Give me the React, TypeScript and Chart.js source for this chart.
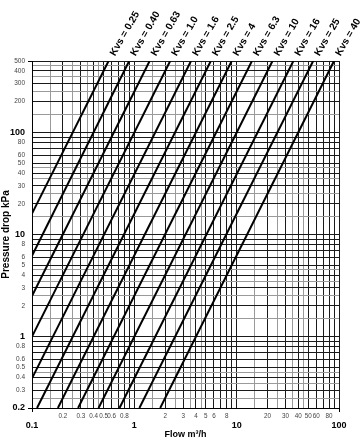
import React, { useEffect, useRef } from 'react';
import { Chart, registerables } from 'chart.js';

Chart.register(...registerables);

// Kvs curves: read endpoints (flow m³/h, pressure drop kPa)
const kvsLabels = ['Kvs = 0.25', 'Kvs = 0.40', 'Kvs = 0.63', 'Kvs = 1.0', 'Kvs = 1.6', 'Kvs = 2.5', 'Kvs = 4', 'Kvs = 6.3', 'Kvs = 10', 'Kvs = 16', 'Kvs = 25', 'Kvs = 40'];
const startFlow = [0.1, 0.1, 0.1, 0.1, 0.1, 0.112, 0.179, 0.282, 0.447, 0.716, 1.12, 1.79];
const startDrop = [16, 6.2, 2.5, 1.0, 0.39, 0.2, 0.2, 0.2, 0.2, 0.2, 0.2, 0.2];
const endFlow = [0.56, 0.89, 1.41, 2.24, 3.58, 5.59, 8.94, 14.1, 22.4, 35.8, 55.9, 89.4];
const endDrop = [500, 500, 500, 500, 500, 500, 500, 500, 500, 500, 500, 500];

// Grid lines
const xGridValues = [
  0.1, 0.15, 0.2, 0.25, 0.3, 0.35, 0.4, 0.45, 0.5, 0.6, 0.7, 0.8, 0.9,
  1, 1.5, 2, 2.5, 3, 3.5, 4, 4.5, 5, 6, 7, 8, 9,
  10, 15, 20, 25, 30, 35, 40, 45, 50, 60, 70, 80, 90, 100,
];
const yGridValues = [
  0.2, 0.25, 0.3, 0.35, 0.4, 0.45, 0.5, 0.6, 0.7, 0.8, 0.9,
  1, 1.5, 2, 2.5, 3, 3.5, 4, 4.5, 5, 6, 7, 8, 9,
  10, 15, 20, 25, 30, 35, 40, 45, 50, 60, 70, 80, 90,
  100, 150, 200, 250, 300, 350, 400, 450, 500,
];
const halfValues = [0.15, 0.25, 0.35, 0.45, 1.5, 2.5, 3.5, 4.5, 15, 25, 35, 45, 150, 250, 350, 450];

// Tick labels
const xMajorTicks = [0.1, 1, 10, 100];
const xMinorTicks = [0.2, 0.3, 0.4, 0.5, 0.6, 0.8, 2, 3, 4, 5, 6, 8, 20, 30, 40, 50, 60, 80];
const yMajorTicks = [0.2, 1, 10, 100];
const yMinorTicks = [0.3, 0.4, 0.5, 0.6, 0.8, 2, 3, 4, 5, 6, 8, 20, 30, 40, 50, 60, 80, 200, 300, 400, 500];

const FONT = "'Liberation Sans', Arial, Helvetica, sans-serif";

const kvsLabelPlugin = {
  id: 'kvsLabels',
  afterDraw(chart: any) {
    const ctx = chart.ctx;
    ctx.save();
    ctx.font = `bold 10px ${FONT}`;
    ctx.fillStyle = '#000';
    ctx.textAlign = 'left';
    ctx.textBaseline = 'middle';
    chart.data.datasets.forEach((ds: any, i: number) => {
      const meta = chart.getDatasetMeta(i);
      const pt = meta.data[meta.data.length - 1];
      if (!pt) return;
      ctx.save();
      ctx.translate(pt.x + 4, pt.y - 6);
      ctx.rotate(-Math.PI / 3);
      ctx.fillText(ds.label, 0, 0);
      ctx.restore();
    });
    ctx.restore();
  },
};

export default function App() {
  const canvasRef = useRef<HTMLCanvasElement | null>(null);

  useEffect(() => {
    document.body.style.margin = '0';
    const canvas = canvasRef.current;
    if (!canvas) return;

    const datasets = kvsLabels.map((label, i) => ({
      label,
      data: [
        { x: startFlow[i], y: startDrop[i] },
        { x: endFlow[i], y: endDrop[i] },
      ],
      borderColor: '#000',
      borderWidth: 2,
      pointRadius: 0,
      fill: false,
      tension: 0,
    }));

    const gridColor = (ctx: any) => (halfValues.includes(ctx.tick?.value) ? '#9a9a9a' : '#1a1a1a');
    const edgeX = (ctx: any) => (ctx.tick?.value === 0.1 || ctx.tick?.value === 100 ? '#000' : 'rgba(0,0,0,0)');
    const edgeY = (ctx: any) => (ctx.tick?.value === 0.2 || ctx.tick?.value === 500 ? '#000' : 'rgba(0,0,0,0)');

    const chart = new Chart(canvas, {
      type: 'line',
      data: { datasets },
      plugins: [kvsLabelPlugin],
      options: {
        animation: false,
        responsive: false,
        maintainAspectRatio: false,
        layout: { padding: { top: 61, right: 24, left: 0, bottom: 0 } },
        plugins: { legend: { display: false }, tooltip: { enabled: false } },
        scales: {
          x: {
            type: 'logarithmic',
            min: 0.1,
            max: 100,
            afterBuildTicks: (scale: any) => {
              scale.ticks = xGridValues.map((v) => ({ value: v, major: xMajorTicks.includes(v) }));
            },
            afterFit: (scale: any) => {
              scale.height = 32;
            },
            grid: { color: gridColor, lineWidth: 1, tickLength: 4, tickColor: edgeX },
            border: { display: true, color: '#000', width: 1 },
            ticks: {
              autoSkip: false,
              maxRotation: 0,
              minRotation: 0,
              padding: 0,
              callback: (value: any) => {
                const v = Number(value);
                if (xMajorTicks.includes(v)) return ['', String(v)];
                if (xMinorTicks.includes(v)) return String(v);
                return '';
              },
              font: (ctx: any) =>
                xMajorTicks.includes(ctx.tick?.value)
                  ? { family: FONT, size: 9, weight: 'bold', lineHeight: 1.0 }
                  : { family: FONT, size: 6.3, weight: 'normal', lineHeight: 1.3 },
              color: (ctx: any) => (xMajorTicks.includes(ctx.tick?.value) ? '#000' : '#444'),
            },
            title: {
              display: true,
              text: 'Flow m³/h',
              font: { family: FONT, size: 9, weight: 'bold' },
              color: '#000',
              padding: { top: 0, bottom: 0 },
            },
          },
          y: {
            type: 'logarithmic',
            min: 0.2,
            max: 500,
            afterBuildTicks: (scale: any) => {
              scale.ticks = yGridValues.map((v) => ({ value: v, major: yMajorTicks.includes(v) }));
            },
            afterFit: (scale: any) => {
              scale.width = 32;
            },
            grid: { color: gridColor, lineWidth: 1, tickLength: 4, tickColor: edgeY },
            border: { display: true, color: '#000', width: 1 },
            ticks: {
              autoSkip: false,
              padding: 3,
              callback: (value: any) => {
                const v = Number(value);
                if (yMajorTicks.includes(v) || yMinorTicks.includes(v)) return String(v);
                return '';
              },
              font: (ctx: any) =>
                yMajorTicks.includes(ctx.tick?.value)
                  ? { family: FONT, size: 9, weight: 'bold' }
                  : { family: FONT, size: 6.5, weight: 'normal' },
              color: (ctx: any) => (yMajorTicks.includes(ctx.tick?.value) ? '#000' : '#444'),
            },
            title: {
              display: true,
              text: 'Pressure drop kPa',
              font: { family: FONT, size: 10, weight: 'bold' },
              color: '#000',
              padding: { top: 0, bottom: 0 },
            },
          },
        },
      } as any,
    });

    return () => chart.destroy();
  }, []);

  return (
    <div style={{ width: 363, height: 440, background: '#fff' }}>
      <canvas ref={canvasRef} width={363} height={440} style={{ display: 'block' }} />
    </div>
  );
}
